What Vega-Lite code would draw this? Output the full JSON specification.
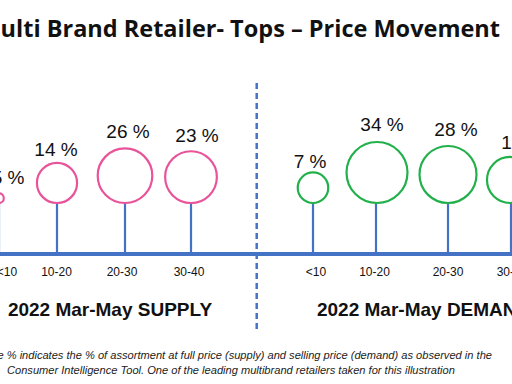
{
  "$schema": "https://vega.github.io/schema/vega-lite/v6.json",
  "width": 512,
  "height": 384,
  "autosize": "none",
  "padding": 0,
  "background": "white",
  "config": {"view": {"stroke": null}},
  "datasets": {
    "bands": [
      {"panel": "SUPPLY", "band": "<10", "mid": 5, "pct": 5, "label": "5 %"},
      {"panel": "SUPPLY", "band": "10-20", "mid": 15, "pct": 14, "label": "14 %"},
      {"panel": "SUPPLY", "band": "20-30", "mid": 25, "pct": 26, "label": "26 %"},
      {"panel": "SUPPLY", "band": "30-40", "mid": 35, "pct": 23, "label": "23 %"},
      {"panel": "DEMAND", "band": "<10", "mid": 5, "pct": 7, "label": "7 %"},
      {"panel": "DEMAND", "band": "10-20", "mid": 15, "pct": 34, "label": "34 %"},
      {"panel": "DEMAND", "band": "20-30", "mid": 25, "pct": 28, "label": "28 %"},
      {"panel": "DEMAND", "band": "30-40", "mid": 35, "pct": 16, "label": "16 %"}
    ],
    "texts": [
      {"role": "title", "text": "Multi Brand Retailer- Tops – Price Movement"},
      {"role": "supply", "text": "2022 Mar-May SUPPLY"},
      {"role": "demand", "text": "2022 Mar-May DEMAND"},
      {"role": "note1", "text": "The % indicates the % of assortment at full price (supply) and selling price (demand) as observed in the"},
      {"role": "note2", "text": "Consumer Intelligence Tool. One of the leading multibrand retailers taken for this illustration"}
    ]
  },
  "layer": [
    {
      "data": {"values": [{}]},
      "mark": {"type": "rule", "color": "#4472c4", "strokeWidth": 4},
      "encoding": {
        "y": {"datum": 33.85, "type": "quantitative", "scale": {"domain": [0, 100]}, "axis": null}
      }
    },
    {
      "data": {"values": [{}]},
      "mark": {"type": "rule", "color": "#4472c4", "strokeWidth": 2.5, "strokeDash": [6, 4]},
      "encoding": {
        "x": {"datum": 50.14, "type": "quantitative", "scale": {"domain": [0, 100]}, "axis": null},
        "y": {"datum": 78.4, "type": "quantitative", "scale": {"domain": [0, 100]}, "axis": null},
        "y2": {"datum": 13.5}
      }
    },
    {
      "data": {"name": "bands"},
      "transform": [{"filter": "datum.panel === 'SUPPLY'"}],
      "mark": {"type": "rule", "color": "#4472c4", "strokeWidth": 2.2},
      "encoding": {
        "x": {"field": "mid", "type": "quantitative", "scale": {"domain": [5, 15, 25, 35], "range": [-1, 57, 125, 191]}, "axis": null},
        "y": {"datum": 33.85, "type": "quantitative", "scale": {"domain": [0, 100]}, "axis": null},
        "y2": {"datum": 47.14}
      }
    },
    {
      "data": {"name": "bands"},
      "transform": [{"filter": "datum.panel === 'DEMAND'"}],
      "mark": {"type": "rule", "color": "#4472c4", "strokeWidth": 2.2},
      "encoding": {
        "x": {"field": "mid", "type": "quantitative", "scale": {"domain": [5, 15, 25, 35], "range": [313, 376, 448, 511]}, "axis": null},
        "y": {"datum": 33.85, "type": "quantitative", "scale": {"domain": [0, 100]}, "axis": null},
        "y2": {"datum": 47.14}
      }
    },
    {
      "data": {"name": "bands"},
      "transform": [{"filter": "datum.panel === 'SUPPLY'"}],
      "mark": {"type": "point", "shape": "M0,0C0.5523,0 1,-0.4477 1,-1C1,-1.5523 0.5523,-2 0,-2C-0.5523,-2 -1,-1.5523 -1,-1C-1,-0.4477 -0.5523,0 0,0Z", "filled": true, "fill": "white", "stroke": "#e8539a", "strokeWidth": 2.2, "opacity": 1},
      "encoding": {
        "x": {"field": "mid", "type": "quantitative", "scale": {"domain": [5, 15, 25, 35], "range": [-1, 57, 125, 191]}, "axis": null},
        "y": {"datum": 47.14, "type": "quantitative", "scale": {"domain": [0, 100]}, "axis": null},
        "size": {"field": "pct", "type": "quantitative", "scale": {"type": "sqrt", "domain": [4.6, 34], "range": [0, 3721]}, "legend": null}
      }
    },
    {
      "data": {"name": "bands"},
      "transform": [{"filter": "datum.panel === 'DEMAND'"}],
      "mark": {"type": "point", "shape": "M0,0C0.5523,0 1,-0.4477 1,-1C1,-1.5523 0.5523,-2 0,-2C-0.5523,-2 -1,-1.5523 -1,-1C-1,-0.4477 -0.5523,0 0,0Z", "filled": true, "fill": "white", "stroke": "#22b04b", "strokeWidth": 2.2, "opacity": 1},
      "encoding": {
        "x": {"field": "mid", "type": "quantitative", "scale": {"domain": [5, 15, 25, 35], "range": [313, 377, 448, 510]}, "axis": null},
        "y": {"datum": 47.14, "type": "quantitative", "scale": {"domain": [0, 100]}, "axis": null},
        "size": {"field": "pct", "type": "quantitative", "scale": {"type": "sqrt", "domain": [2.5, 34], "range": [0, 3721]}, "legend": null}
      }
    },
    {
      "data": {"name": "bands"},
      "transform": [{"filter": "datum.panel === 'SUPPLY'"}],
      "mark": {"type": "text", "font": "Liberation Sans", "fontSize": 19, "color": "#111111", "baseline": "middle"},
      "encoding": {
        "x": {"field": "mid", "type": "quantitative", "scale": {"domain": [5, 15, 25, 35], "range": [8, 56, 128, 197]}, "axis": null},
        "y": {"field": "pct", "type": "quantitative", "scale": {"type": "log", "domain": [5, 34], "range": [178, 125]}, "axis": null},
        "text": {"field": "label"}
      }
    },
    {
      "data": {"name": "bands"},
      "transform": [{"filter": "datum.panel === 'DEMAND'"}],
      "mark": {"type": "text", "font": "Liberation Sans", "fontSize": 19, "color": "#111111", "baseline": "middle"},
      "encoding": {
        "x": {"field": "mid", "type": "quantitative", "scale": {"domain": [5, 15, 25, 35], "range": [310, 382, 456, 523]}, "axis": null},
        "y": {"field": "pct", "type": "quantitative", "scale": {"type": "log", "domain": [5, 34], "range": [170, 125]}, "axis": null},
        "text": {"field": "label"}
      }
    },
    {
      "data": {"name": "bands"},
      "transform": [{"filter": "datum.panel === 'SUPPLY'"}],
      "mark": {"type": "text", "font": "Liberation Sans", "fontSize": 12, "color": "#111111", "baseline": "middle"},
      "encoding": {
        "x": {"field": "mid", "type": "quantitative", "scale": {"domain": [5, 15, 25, 35], "range": [7, 56.5, 122, 189]}, "axis": null},
        "y": {"datum": 29.04, "type": "quantitative", "scale": {"domain": [0, 100]}, "axis": null},
        "text": {"field": "band"}
      }
    },
    {
      "data": {"name": "bands"},
      "transform": [{"filter": "datum.panel === 'DEMAND'"}],
      "mark": {"type": "text", "font": "Liberation Sans", "fontSize": 12, "color": "#111111", "baseline": "middle"},
      "encoding": {
        "x": {"field": "mid", "type": "quantitative", "scale": {"domain": [5, 15, 25, 35], "range": [316, 374.5, 448, 512]}, "axis": null},
        "y": {"datum": 29.04, "type": "quantitative", "scale": {"domain": [0, 100]}, "axis": null},
        "text": {"field": "band"}
      }
    },
    {
      "data": {"name": "texts"},
      "transform": [{"filter": "datum.role === 'title'"}],
      "mark": {"type": "text", "font": "Open Sans", "fontWeight": "bold", "fontSize": 23.5, "color": "#111111", "align": "right", "baseline": "alphabetic"},
      "encoding": {
        "x": {"datum": 97.66, "type": "quantitative", "scale": {"domain": [0, 100]}, "axis": null},
        "y": {"datum": 90.4, "type": "quantitative", "scale": {"domain": [0, 100]}, "axis": null},
        "text": {"field": "text"}
      }
    },
    {
      "data": {"name": "texts"},
      "transform": [{"filter": "datum.role === 'supply'"}],
      "mark": {"type": "text", "font": "Liberation Sans", "fontWeight": "bold", "fontSize": 19, "color": "#111111", "align": "center", "baseline": "middle"},
      "encoding": {
        "x": {"datum": 21.48, "type": "quantitative", "scale": {"domain": [0, 100]}, "axis": null},
        "y": {"datum": 19.27, "type": "quantitative", "scale": {"domain": [0, 100]}, "axis": null},
        "text": {"field": "text"}
      }
    },
    {
      "data": {"name": "texts"},
      "transform": [{"filter": "datum.role === 'demand'"}],
      "mark": {"type": "text", "font": "Liberation Sans", "fontWeight": "bold", "fontSize": 19, "color": "#111111", "align": "left", "baseline": "middle"},
      "encoding": {
        "x": {"datum": 61.91, "type": "quantitative", "scale": {"domain": [0, 100]}, "axis": null},
        "y": {"datum": 19.27, "type": "quantitative", "scale": {"domain": [0, 100]}, "axis": null},
        "text": {"field": "text"}
      }
    },
    {
      "data": {"name": "texts"},
      "transform": [{"filter": "datum.role === 'note1'"}],
      "mark": {"type": "text", "font": "Liberation Sans", "fontStyle": "italic", "fontSize": 11.1, "color": "#222222", "align": "right", "baseline": "middle"},
      "encoding": {
        "x": {"datum": 96.09, "type": "quantitative", "scale": {"domain": [0, 100]}, "axis": null},
        "y": {"datum": 7.29, "type": "quantitative", "scale": {"domain": [0, 100]}, "axis": null},
        "text": {"field": "text"}
      }
    },
    {
      "data": {"name": "texts"},
      "transform": [{"filter": "datum.role === 'note2'"}],
      "mark": {"type": "text", "font": "Liberation Sans", "fontStyle": "italic", "fontSize": 11.1, "color": "#222222", "align": "left", "baseline": "middle"},
      "encoding": {
        "x": {"datum": 1.37, "type": "quantitative", "scale": {"domain": [0, 100]}, "axis": null},
        "y": {"datum": 3.39, "type": "quantitative", "scale": {"domain": [0, 100]}, "axis": null},
        "text": {"field": "text"}
      }
    }
  ],
  "resolve": {"scale": {"x": "independent", "y": "independent", "size": "independent"}}
}
